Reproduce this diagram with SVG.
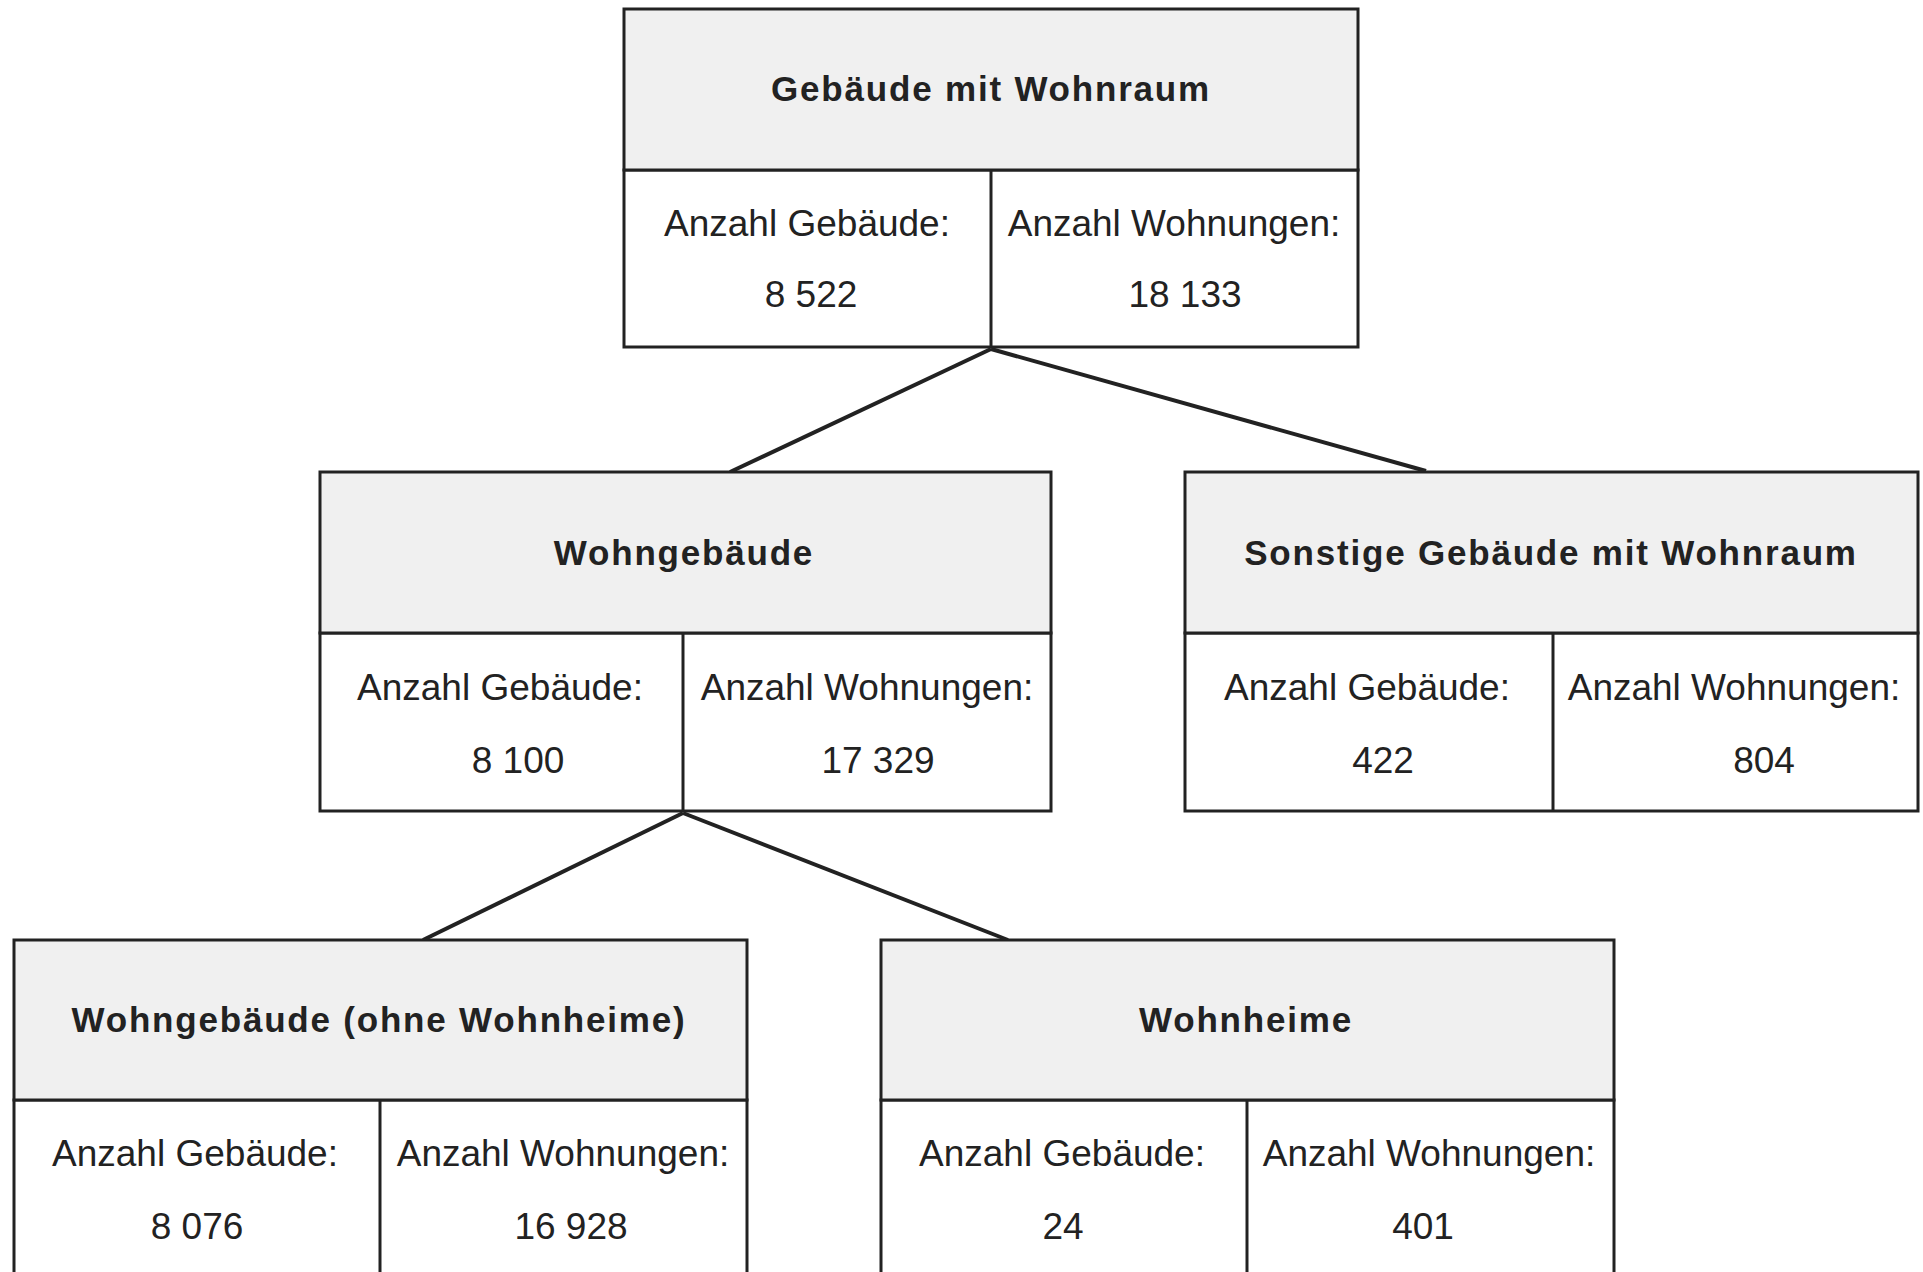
<svg xmlns="http://www.w3.org/2000/svg" width="1923" height="1272" viewBox="0 0 1923 1272">
<style>
.hd{fill:#f0f0f0;stroke:#222;stroke-width:3}
.bd{fill:#fff;stroke:#222;stroke-width:3}
.ln{stroke:#222;stroke-width:3}
.t{font-family:"Liberation Sans",Arial,sans-serif;font-weight:bold;font-size:35px;letter-spacing:1.8px;fill:#222;text-anchor:middle}
.l{font-family:"Liberation Sans",Arial,sans-serif;font-size:37px;fill:#222;text-anchor:middle}
.cn{stroke:#222;stroke-width:4;fill:none}
</style>
<rect width="1923" height="1272" fill="#fff"/>
<g id="connectors">
<line class="cn" x1="991" y1="349" x2="730" y2="472"/>
<line class="cn" x1="991" y1="349" x2="1426" y2="471"/>
<line class="cn" x1="683" y1="813" x2="423" y2="940"/>
<line class="cn" x1="683" y1="813" x2="1008" y2="940"/>
</g>
<g id="node-gebaeude-mit-wohnraum">
<rect class="bd" x="624" y="170" width="734" height="177"/>
<rect class="hd" x="624" y="9" width="734" height="161"/>
<line class="ln" x1="991" y1="170" x2="991" y2="347"/>
<text class="t" x="991" y="101">Gebäude mit Wohnraum</text>
<text class="l" x="807" y="236">Anzahl Gebäude:</text>
<text class="l" x="811" y="307">8 522</text>
<text class="l" x="1174" y="236">Anzahl Wohnungen:</text>
<text class="l" x="1185" y="307">18 133</text>
</g>
<g id="node-wohngebaeude">
<rect class="bd" x="320" y="633" width="731" height="178"/>
<rect class="hd" x="320" y="472" width="731" height="161"/>
<line class="ln" x1="683" y1="633" x2="683" y2="811"/>
<text class="t" x="684" y="565">Wohngebäude</text>
<text class="l" x="500" y="700">Anzahl Gebäude:</text>
<text class="l" x="518" y="773">8 100</text>
<text class="l" x="867" y="700">Anzahl Wohnungen:</text>
<text class="l" x="878" y="773">17 329</text>
</g>
<g id="node-sonstige">
<rect class="bd" x="1185" y="633" width="733" height="178"/>
<rect class="hd" x="1185" y="472" width="733" height="161"/>
<line class="ln" x1="1553" y1="633" x2="1553" y2="811"/>
<text class="t" x="1551" y="565">Sonstige Gebäude mit Wohnraum</text>
<text class="l" x="1367" y="700">Anzahl Gebäude:</text>
<text class="l" x="1383" y="773">422</text>
<text class="l" x="1734" y="700">Anzahl Wohnungen:</text>
<text class="l" x="1764" y="773">804</text>
</g>
<g id="node-ohne-wohnheime">
<rect class="bd" x="14" y="1100" width="733" height="180"/>
<rect class="hd" x="14" y="940" width="733" height="160"/>
<line class="ln" x1="380" y1="1100" x2="380" y2="1280"/>
<text class="t" x="379" y="1032">Wohngebäude (ohne Wohnheime)</text>
<text class="l" x="195" y="1166">Anzahl Gebäude:</text>
<text class="l" x="197" y="1239">8 076</text>
<text class="l" x="563" y="1166">Anzahl Wohnungen:</text>
<text class="l" x="571" y="1239">16 928</text>
</g>
<g id="node-wohnheime">
<rect class="bd" x="881" y="1100" width="733" height="180"/>
<rect class="hd" x="881" y="940" width="733" height="160"/>
<line class="ln" x1="1247" y1="1100" x2="1247" y2="1280"/>
<text class="t" x="1246" y="1032">Wohnheime</text>
<text class="l" x="1062" y="1166">Anzahl Gebäude:</text>
<text class="l" x="1063" y="1239">24</text>
<text class="l" x="1429" y="1166">Anzahl Wohnungen:</text>
<text class="l" x="1423" y="1239">401</text>
</g>
</svg>
